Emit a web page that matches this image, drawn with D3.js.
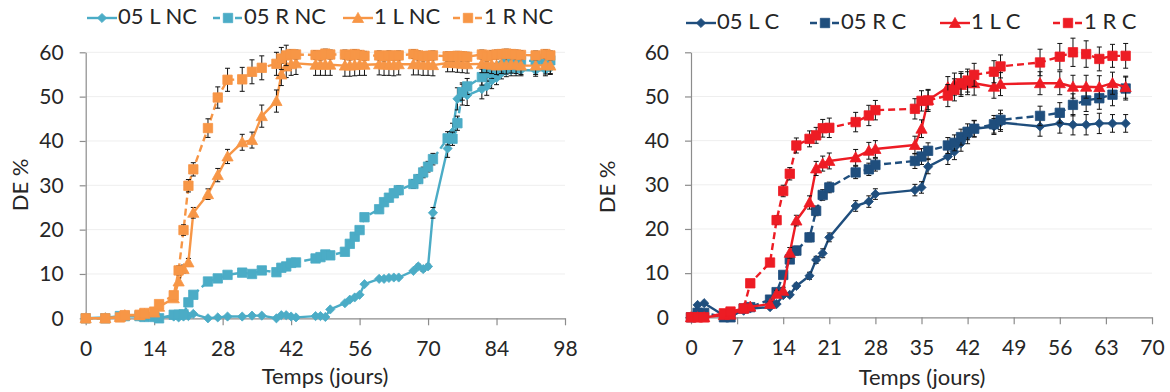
<!DOCTYPE html>
<html><head><meta charset="utf-8">
<script src="https://cdn.jsdelivr.net/npm/d3@7/dist/d3.min.js"></script>
<style>
body{margin:0;background:#fff}
svg{display:block}
text{font-family:Lato,"Open Sans",sans-serif;fill:#262626}
</style>
</head><body>
<svg id="c" width="1170" height="392"></svg>
<script>
// ---------- Left chart (NC) ----------
const daysNC = [0,4,7,8,11,12,14,15,18,19,20,21,22,25,27,29,32,34,36,39,40,41,42,43,47,48,49,50,53,54,55,56,57,60,61,62,63,64,67,68,69,70,71,74,75,76,77,78,81,82,83,84,85,86,87,88,89,92,94,95];
const L05NC = [0,0.2,0.4,0.5,0.4,0.3,0.3,0.2,0.4,0.2,0.4,0.5,1.0,0,0.2,0.4,0.4,0.6,0.6,0,0.7,0.7,0.4,0.2,0.5,0.5,0.3,2.0,3.4,4.2,4.7,5.3,7.7,8.9,8.9,9.1,9.2,9.2,10.7,11.7,11.1,11.7,23.8,38.3,42.0,49.5,50.6,50.3,51.7,52.3,53.6,54.2,55.3,55.8,56.0,56.0,56.0,55.9,56.0,56.5];
const R05NC = [0,0,0.5,0.5,0.5,0.3,0.3,0,0.8,0.8,0.9,3.6,5.3,8.3,9.0,9.8,10.3,10.0,10.8,10.4,11.4,11.7,12.5,12.6,13.5,13.8,14.4,14.2,15.0,16.8,18.4,19.9,22.8,24.6,26.2,27.2,28.2,28.9,30.3,31.4,32.9,34.2,35.9,40.6,40.5,44.0,51.0,52.3,54.4,55.3,55.6,56.2,56.8,57.9,58.3,58.4,58.0,58.1,58.0,58.2];
const L1NC = [0,0,0.3,0.7,0.7,1.0,1.3,2.6,4.5,8.3,11.1,12.6,23.8,28.0,32.3,36.5,39.7,40.2,45.6,49.0,55.0,56.8,57.3,57.5,57.2,57.2,57.2,57.2,57.0,57.0,57.1,57.2,57.2,57.3,57.2,57.2,57.1,57.3,57.3,57.3,57.2,57.2,57.1,57.6,57.6,57.5,57.4,57.3,57.4,57.4,57.2,57.0,57.2,57.1,57.3,57.2,57.0,57.0,57.1,57.0];
const R1NC = [0,0,0.2,0.7,0.8,1.2,1.5,3.2,5.2,10.8,19.9,29.9,33.6,42.9,49.8,53.8,53.9,55.6,56.5,57.4,58.6,59.3,59.6,59.5,59.4,59.3,59.7,59.5,59.5,59.3,59.6,59.4,59.2,59.3,59.1,59.3,59.2,59.3,59.6,59.3,59.1,59.2,59.3,59.1,59.1,59.2,59.1,59.0,59.5,59.1,59.4,59.5,59.6,59.7,59.6,59.5,59.4,59.3,59.6,59.3];
const errL05NC = [0.2,0.2,0.2,0.2,0.2,0.2,0.2,0.2,0.2,0.2,0.2,0.2,0.3,0.2,0.2,0.2,0.2,0.2,0.2,0.2,0.2,0.2,0.2,0.2,0.3,0.3,0.3,0.3,0.3,0.3,0.4,0.4,0.4,0.4,0.4,0.4,0.4,0.4,0.4,0.5,0.5,0.5,1.2,2.0,2.0,2.5,2.5,2.3,2.2,2.0,1.8,1.5,1.3,1.3,1.3,1.3,1.3,1.3,1.3,1.3];
const errR05NC = [0.2,0.2,0.2,0.2,0.2,0.2,0.2,0.2,0.3,0.3,0.3,0.3,0.3,0.4,0.4,0.4,0.4,0.4,0.4,0.4,0.4,0.5,0.5,0.5,0.5,0.5,0.5,0.5,0.6,0.6,0.6,0.8,0.8,0.8,0.8,0.9,0.9,1.0,1.0,1.0,1.2,1.2,1.3,1.5,1.5,1.6,1.8,1.8,1.8,1.8,1.5,1.3,1.2,1.2,1.2,1.2,1.2,1.2,1.2,1.2];
const errL1NC = [0.2,0.2,0.2,0.2,0.2,0.3,0.3,0.3,0.5,0.8,0.9,0.9,1.2,1.2,1.5,1.6,1.8,1.8,2.5,2.5,2.5,2.5,2.5,2.5,2.4,2.4,2.4,2.4,2.4,2.4,2.4,2.4,2.4,2.4,2.4,2.4,2.4,2.4,2.4,2.4,2.4,2.4,2.4,2.0,2.0,2.0,2.0,2.0,2.0,2.0,2.0,2.0,2.0,2.0,2.0,2.0,2.0,2.0,2.0,2.0];
const errR1NC = [0.2,0.2,0.2,0.3,0.3,0.3,0.4,0.5,0.8,1.0,1.2,1.4,1.5,2.1,2.4,2.6,2.7,2.7,2.7,2.6,2.5,2.3,1.0,1.0,1.0,1.0,1.0,1.0,1.0,1.0,1.0,1.0,1.0,1.0,1.0,1.0,1.0,1.0,1.0,1.0,1.0,1.0,1.0,1.0,1.0,1.0,1.0,1.0,1.0,1.0,1.0,1.0,1.0,1.0,1.0,1.0,1.0,1.0,1.0,1.0];

// ---------- Right chart (C) ----------
const daysC = [0,1,2,5,6,8,9,12,13,14,15,16,18,19,20,21,25,27,28,34,35,36,39,40,41,42,43,46,47,53,56,58,60,62,64,66];
const L05C = [0,2.8,3.2,0.4,0.4,1.5,2.0,2.3,3.0,5.0,5.1,7.1,9.4,13.0,14.5,18.1,25.2,26.2,27.9,28.8,29.4,34.1,36.4,37.5,39.4,41.1,42.7,43.2,44.1,43.2,43.9,43.6,43.6,43.9,43.9,43.9];
const R05C = [0,1.0,1.0,0,0,2.0,2.3,4.0,5.7,9.6,13.1,15.1,18.1,24.1,27.7,29.4,32.8,33.5,34.5,35.4,36.4,37.7,38.9,39.5,40.8,42.0,42.7,43.7,44.7,45.6,46.3,48.1,49.1,49.6,50.4,51.8];
const L1C = [0,0,0,0.5,0.6,2.0,2.4,3.0,5.3,6.0,14.6,21.9,26.0,33.7,34.8,35.4,36.2,37.7,38.1,39.0,42.7,49.2,52.1,52.8,52.6,53.0,53.0,52.2,52.8,53.0,53.0,52.2,52.2,52.1,53.0,52.1];
const R1C = [0,0,0,0.9,1.3,2.0,7.7,12.4,22.0,28.6,32.5,38.9,40.4,41.2,42.8,42.9,44.2,45.7,46.9,47.2,49.0,49.1,50.2,51.5,53.0,53.6,54.9,55.6,56.8,57.7,59.0,60.0,59.6,58.5,59.2,59.2];
const errL05C = [0.2,0.3,0.3,0.2,0.2,0.3,0.3,0.3,0.4,0.5,0.5,0.6,0.8,0.8,1.0,1.0,1.2,1.3,1.2,1.3,1.3,1.6,1.8,1.8,1.8,1.8,1.8,1.8,2.0,2.2,2.2,2.3,2.3,2.3,2.0,2.0];
const errR05C = [0.2,0.3,0.3,0.2,0.2,0.3,0.3,0.4,0.6,0.8,0.9,1.0,1.0,1.1,1.2,1.2,1.4,1.4,1.4,1.7,1.8,1.8,1.8,1.8,1.8,1.8,1.9,2.0,2.2,2.2,2.3,2.5,2.5,2.5,2.5,2.6];
const errL1C = [0.2,0.2,0.2,0.3,0.3,0.4,0.4,0.5,0.8,0.8,1.2,1.2,1.5,1.6,1.7,1.8,1.8,1.9,1.9,2.0,2.0,2.2,2.4,2.5,2.6,2.6,2.7,2.6,2.6,2.6,2.6,2.6,2.6,2.6,2.5,2.5];
const errR1C = [0.2,0.2,0.2,0.3,0.3,0.4,0.5,0.6,1.0,1.3,1.4,1.7,1.8,1.8,2.0,2.2,2.2,2.3,2.2,2.3,2.3,2.5,2.5,2.5,2.6,2.6,2.6,2.5,2.6,3.0,3.0,3.2,3.0,2.7,2.6,2.8];

// ---------- ticks & labels ----------
const xTicksNC = [0,14,28,42,56,70,84,98];
const xTicksC = [0,7,14,21,28,35,42,49,56,63,70];
const yTicks = [0,10,20,30,40,50,60];
const namesNC = ["05 L NC","05 R NC","1 L NC","1 R NC"];
const namesC = ["05 L C","05 R C","1 L C","1 R C"];
const yTitle = "DE %";
const xTitle = "Temps (jours)";

const svg = d3.select("#c");

function marker(g, type, x, y, color){
  let p;
  if(type==="diamond"){ const r=4.6; p=`M${x},${y-r}L${x+r},${y}L${x},${y+r}L${x-r},${y}Z`; }
  else if(type==="square"){ const r=4.7; p=`M${x-r},${y-r}h${2*r}v${2*r}h${-2*r}Z`; }
  else { const r=5.6; p=`M${x},${y-r}L${x+r},${y+r*0.8}L${x-r},${y+r*0.8}Z`; }
  g.append("path").attr("d",p).attr("fill",color).attr("stroke",color).attr("stroke-width",0.8);
}

function chart(cfg){
  const x = d3.scaleLinear().domain([0,cfg.xmax]).range(cfg.xr);
  const y = d3.scaleLinear().domain([0,60]).range(cfg.yr);
  const g = svg.append("g");
  g.append("g").selectAll("line").data(yTicks.filter(d=>d>0)).join("line")
    .attr("x1",cfg.xr[0]).attr("x2",cfg.xr[1]).attr("y1",d=>y(d)).attr("y2",d=>y(d))
    .attr("stroke","#eeeeee").attr("stroke-width",1);
  const ax = g.append("g").attr("transform",`translate(0,${cfg.yr[0]})`)
    .call(d3.axisBottom(x).tickValues(cfg.xticks).tickSizeInner(7).tickSizeOuter(0).tickPadding(16));
  const ay = g.append("g").attr("transform",`translate(${cfg.xr[0]},0)`)
    .call(d3.axisLeft(y).tickValues(yTicks).tickSizeInner(6).tickSizeOuter(0).tickPadding(16));
  [ax,ay].forEach(a=>{
    a.select(".domain").attr("stroke","#8c8c8c").attr("stroke-width",1.2);
    a.selectAll(".tick line").attr("stroke","#8c8c8c").attr("stroke-width",1.2);
    a.selectAll(".tick text").attr("font-size",21).attr("font-family","Lato,'Open Sans',sans-serif").attr("fill","#262626");
  });
  g.append("text").attr("transform",`translate(${cfg.ytx},${cfg.yty}) rotate(-90)`)
    .attr("text-anchor","middle").attr("dominant-baseline","middle").attr("font-size",22).text(yTitle);
  g.append("text").attr("x",cfg.xtx).attr("y",cfg.xty).attr("text-anchor","middle")
    .attr("dominant-baseline","middle").attr("font-size",22).text(xTitle);
  const line = d3.line().x(d=>x(d[0])).y(d=>y(d[1]));
  cfg.series.forEach(s=>{
    const pts = cfg.days.map((d,i)=>[d,s.vals[i],s.err[i]]);
    const sg = g.append("g");
    sg.append("path").datum(pts).attr("d",line).attr("fill","none")
      .attr("stroke",s.color).attr("stroke-width",2.4)
      .attr("stroke-dasharray",s.dash?"7,4":null).attr("stroke-linejoin","round");
    const eb = sg.append("g").attr("stroke","#111").attr("stroke-width",1);
    pts.forEach(p=>{
      if(p[2]<0.5) return;
      const xx=x(p[0]), y1=y(p[1]-p[2]), y2=y(p[1]+p[2]);
      eb.append("line").attr("x1",xx).attr("x2",xx).attr("y1",y1).attr("y2",y2);
      eb.append("line").attr("x1",xx-2.5).attr("x2",xx+2.5).attr("y1",y1).attr("y2",y1);
      eb.append("line").attr("x1",xx-2.5).attr("x2",xx+2.5).attr("y1",y2).attr("y2",y2);
    });
    const mg = sg.append("g");
    pts.forEach(p=>marker(mg,s.shape,x(p[0]),y(p[1]),s.color));
  });
  const lg = g.append("g");
  cfg.series.forEach((s,i)=>{
    const lx = cfg.legX[i], ly = cfg.legY;
    lg.append("line").attr("x1",lx).attr("x2",lx+30).attr("y1",ly).attr("y2",ly)
      .attr("stroke",s.color).attr("stroke-width",2.4).attr("stroke-dasharray",s.dash?"7,4":null);
    marker(lg,s.shape,lx+15,ly,s.color);
    lg.append("text").attr("x",lx+31).attr("y",ly).attr("dominant-baseline","middle")
      .attr("font-size",22).text(s.name);
  });
}

const cNCb="#4bacc6", cNCo="#f79646", cCb="#1f4e7d", cCr="#ed1c24";
chart({
  xmax:98, xr:[85.7,565], yr:[318.3,52.3], xticks:xTicksNC, days:daysNC,
  ytx:22, yty:185, xtx:325, xty:378, legX:[87,213,343,453], legY:18,
  series:[
    {name:namesNC[0],vals:L05NC,err:errL05NC,color:cNCb,dash:false,shape:"diamond"},
    {name:namesNC[1],vals:R05NC,err:errR05NC,color:cNCb,dash:true,shape:"square"},
    {name:namesNC[2],vals:L1NC,err:errL1NC,color:cNCo,dash:false,shape:"triangle"},
    {name:namesNC[3],vals:R1NC,err:errR1NC,color:cNCo,dash:true,shape:"square"}
  ]
});
chart({
  xmax:70, xr:[691,1152], yr:[317.3,52.3], xticks:xTicksC, days:daysC,
  ytx:609, yty:187, xtx:922, xty:379, legX:[686,810,940,1053], legY:23,
  series:[
    {name:namesC[0],vals:L05C,err:errL05C,color:cCb,dash:false,shape:"diamond"},
    {name:namesC[1],vals:R05C,err:errR05C,color:cCb,dash:true,shape:"square"},
    {name:namesC[2],vals:L1C,err:errL1C,color:cCr,dash:false,shape:"triangle"},
    {name:namesC[3],vals:R1C,err:errR1C,color:cCr,dash:true,shape:"square"}
  ]
});
</script>
</body></html>
